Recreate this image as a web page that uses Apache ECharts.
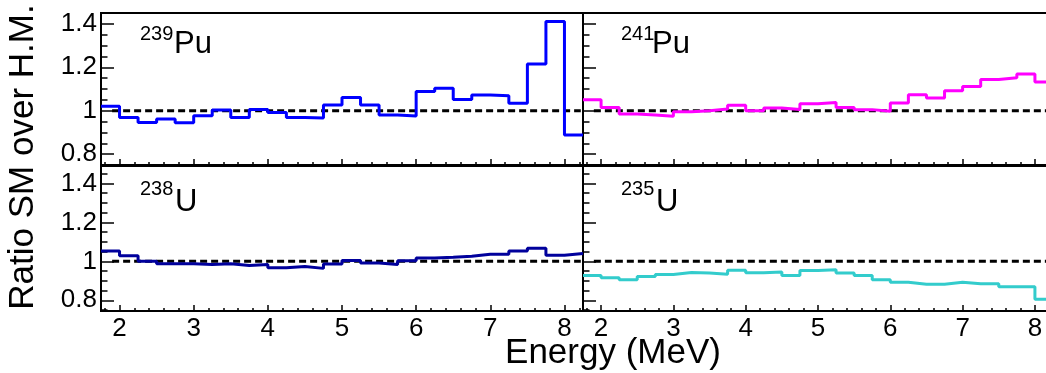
<!DOCTYPE html>
<html>
<head>
<meta charset="utf-8">
<script src="https://cdn.jsdelivr.net/npm/echarts@6/dist/echarts.min.js"></script>
<style>
  html, body { margin: 0; padding: 0; background: #fff; }
  #chart { width: 1046px; height: 373px; }
</style>
</head>
<body>
<div id="chart"></div>
<script>
// Lower edges of the 0.25 MeV energy bins; the last bin closes at lastEdge
const binLow = [1.75, 2.0, 2.25, 2.5, 2.75, 3.0, 3.25, 3.5, 3.75, 4.0, 4.25, 4.5, 4.75,
                5.0, 5.25, 5.5, 5.75, 6.0, 6.25, 6.5, 6.75, 7.0, 7.25, 7.5, 7.75, 8.0];
const lastEdge = 8.25;

// Ratio of the summation-method spectrum over the Huber-Mueller spectrum, per isotope
const pu239 = [1.020, 0.969, 0.946, 0.962, 0.945, 0.977, 1.003, 0.969, 1.006, 0.992, 0.969, 0.966, 1.026,
               1.061, 1.026, 0.980, 0.976, 1.089, 1.104, 1.052, 1.072, 1.069, 1.034, 1.215, 1.411, 0.888];
const pu241 = [1.051, 1.015, 0.985, 0.980, 0.974, 0.995, 1.000, 1.008, 1.025, 1.000, 1.012, 1.006, 1.032,
               1.038, 1.015, 1.005, 0.998, 1.035, 1.074, 1.058, 1.092, 1.112, 1.144, 1.152, 1.169, 1.132];
const u238  = [1.053, 1.029, 1.000, 0.988, 0.988, 0.984, 0.988, 0.979, 0.984, 0.967, 0.974, 0.964, 0.986,
               1.005, 0.991, 0.984, 1.003, 1.017, 1.021, 1.026, 1.036, 1.036, 1.053, 1.067, 1.031, 1.041];
const u235  = [0.928, 0.916, 0.905, 0.922, 0.933, 0.943, 0.940, 0.934, 0.955, 0.941, 0.945, 0.928, 0.953,
               0.957, 0.940, 0.928, 0.905, 0.893, 0.883, 0.883, 0.893, 0.885, 0.885, 0.869, 0.869, 0.805];

// Reference line at ratio = 1
const unityLine = [[1.9, 1], [8.22, 1]];

// Axis ticks and labels
const xMajor = [2, 3, 4, 5, 6, 7, 8];
const xMinor = [1.8, 2.2, 2.4, 2.6, 2.8, 3.2, 3.4, 3.6, 3.8, 4.2, 4.4, 4.6, 4.8,
                5.2, 5.4, 5.6, 5.8, 6.2, 6.4, 6.6, 6.8, 7.2, 7.4, 7.6, 7.8, 8.2];
const yMajor = [0.8, 1.0, 1.2, 1.4];
const yMinor = [0.75, 0.85, 0.9, 0.95, 1.05, 1.1, 1.15, 1.25, 1.3, 1.35, 1.45];

const FONT = '"Liberation Sans", Arial, Helvetica, sans-serif';

function histPoints(values) {
  const pts = binLow.map((x, i) => [x, values[i]]);
  pts.push([lastEdge, values[values.length - 1]]);
  return pts;
}

// Four panels: plutonium on top, uranium below; left column carries the y labels
const panels = [
  { grid: { left: 101, right: 463, top: 13, height: 152 }, yMin: 0.75, yMax: 1.45, xLab: false, yLab: true,  data: pu239, color: '#0000ff' },
  { grid: { left: 583, right: -7,  top: 13, height: 152 }, yMin: 0.75, yMax: 1.45, xLab: false, yLab: false, data: pu241, color: '#ff00ff' },
  { grid: { left: 101, right: 463, top: 166, height: 145 }, yMin: 0.745, yMax: 1.49, xLab: true, yLab: true,  data: u238,  color: '#00009c' },
  { grid: { left: 583, right: -7,  top: 166, height: 145 }, yMin: 0.745, yMax: 1.49, xLab: true, yLab: false, data: u235,  color: '#33cccc' }
];

const grids = [], xAxes = [], yAxes = [], series = [];
panels.forEach((p, i) => {
  grids.push(Object.assign({
    show: true, borderColor: '#000', borderWidth: 2, backgroundColor: 'transparent',
    containLabel: false, outerBoundsMode: 'none'
  }, p.grid));

  const xBase = {
    type: 'value', gridIndex: i, min: 1.75, max: lastEdge, position: 'bottom',
    axisLine: { show: false }, splitLine: { show: false }
  };
  // major x ticks + labels
  xAxes.push(Object.assign({}, xBase, {
    axisTick: { show: true, inside: true, length: 6, customValues: xMajor, lineStyle: { color: '#000', width: 1.5 } },
    axisLabel: { show: p.xLab, customValues: xMajor, margin: 5, color: '#000', fontSize: 26, fontFamily: FONT }
  }));
  // minor x ticks
  xAxes.push(Object.assign({}, xBase, {
    axisTick: { show: true, inside: true, length: 3, customValues: xMinor, lineStyle: { color: '#000', width: 1.5 } },
    axisLabel: { show: false }
  }));

  const yBase = {
    type: 'value', gridIndex: i, min: p.yMin, max: p.yMax, position: 'left',
    axisLine: { show: false }, splitLine: { show: false }
  };
  yAxes.push(Object.assign({}, yBase, {
    axisTick: { show: true, inside: true, length: 13, customValues: yMajor, lineStyle: { color: '#000', width: 1.5 } },
    axisLabel: { show: p.yLab, customValues: yMajor, margin: 4, color: '#000', fontSize: 26, fontFamily: FONT }
  }));
  yAxes.push(Object.assign({}, yBase, {
    axisTick: { show: true, inside: true, length: 6.5, customValues: yMinor, lineStyle: { color: '#000', width: 1.5 } },
    axisLabel: { show: false }
  }));

  series.push({
    type: 'line', xAxisIndex: 2 * i, yAxisIndex: 2 * i,
    data: unityLine, symbol: 'none', silent: true,
    lineStyle: { color: '#000', width: 3, type: [7, 4] }, z: 2
  });
  series.push({
    type: 'line', xAxisIndex: 2 * i, yAxisIndex: 2 * i,
    data: histPoints(p.data), step: 'end', symbol: 'none', silent: true,
    lineStyle: { color: p.color, width: 3 }, z: 3
  });
});

// Titles and isotope labels
function txt(x, y, text, size) {
  return {
    type: 'text', x: x, y: y,
    style: { text: text, fill: '#000', font: size + 'px ' + FONT, textAlign: 'left', textVerticalAlign: 'middle' }
  };
}
const isotopeLabels = [
  { sup: '239', el: 'Pu', x: 140, xe: 174, ys: 34.5, ye: 44.5 },
  { sup: '241', el: 'Pu', x: 621, xe: 652, ys: 34.5, ye: 44.5 },
  { sup: '238', el: 'U',  x: 140, xe: 175, ys: 189,  ye: 202.5 },
  { sup: '235', el: 'U',  x: 621, xe: 656, ys: 189,  ye: 202.5 }
];
const graphics = [];
isotopeLabels.forEach(l => {
  graphics.push(txt(l.x, l.ys, l.sup, 20));
  graphics.push(txt(l.xe, l.ye, l.el, 31));
});
graphics.push({
  type: 'text', x: 613, y: 353,
  style: { text: 'Energy (MeV)', fill: '#000', font: '35px ' + FONT, textAlign: 'center', textVerticalAlign: 'middle' }
});
graphics.push({
  type: 'text', x: 23, y: 157, rotation: Math.PI / 2,
  style: { text: 'Ratio SM over H.M.', fill: '#000', font: '35px ' + FONT, textAlign: 'center', textVerticalAlign: 'middle' }
});

const chart = echarts.init(document.getElementById('chart'), null, { renderer: 'canvas' });
chart.setOption({
  animation: false,
  backgroundColor: '#fff',
  grid: grids,
  xAxis: xAxes,
  yAxis: yAxes,
  series: series,
  graphic: graphics
});
</script>
</body>
</html>
